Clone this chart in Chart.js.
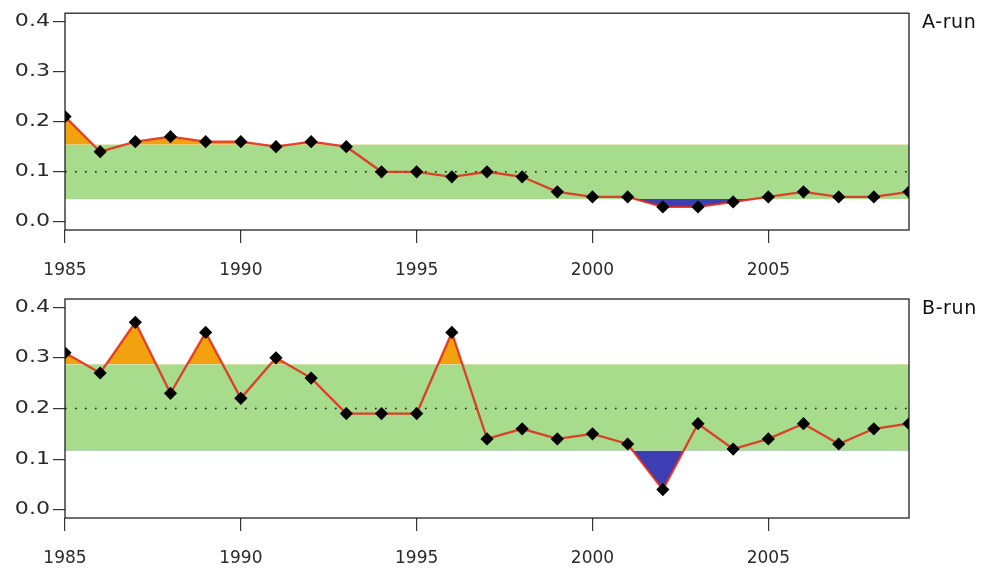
<!DOCTYPE html>
<html>
<head>
<meta charset="utf-8">
<script src="https://cdn.jsdelivr.net/npm/chart.js@4.4.1/dist/chart.umd.min.js"></script>
<style>
  html, body { margin: 0; padding: 0; background: #fff; }
  #wrap { position: relative; width: 981px; height: 573px; }
  .panel { position: absolute; left: 0; width: 981px; }
</style>
</head>
<body>
<div id="wrap">
  <div class="panel" style="top:0;height:285px"><canvas id="runA" width="981" height="285"></canvas></div>
  <div class="panel" style="top:285px;height:288px"><canvas id="runB" width="981" height="288"></canvas></div>
</div>
<script>
// Yearly values for the two runs
const years = [1985, 1986, 1987, 1988, 1989, 1990, 1991, 1992, 1993, 1994, 1995, 1996,
               1997, 1998, 1999, 2000, 2001, 2002, 2003, 2004, 2005, 2006, 2007, 2008, 2009];
const aRun = [0.21, 0.14, 0.16, 0.17, 0.16, 0.16, 0.15, 0.16, 0.15, 0.10, 0.10, 0.09,
              0.10, 0.09, 0.06, 0.05, 0.05, 0.03, 0.03, 0.04, 0.05, 0.06, 0.05, 0.05, 0.06];
const bRun = [0.31, 0.27, 0.37, 0.23, 0.35, 0.22, 0.30, 0.26, 0.19, 0.19, 0.19, 0.35,
              0.14, 0.16, 0.14, 0.15, 0.13, 0.04, 0.17, 0.12, 0.14, 0.17, 0.13, 0.16, 0.17];
const runNames = ['A-run', 'B-run'];
// Reference band and centre line per run
const bandLow  = [0.046, 0.117];
const bandHigh = [0.154, 0.287];
const runMean  = [0.10, 0.20];
// Axis ticks
const xTicks = [1985, 1990, 1995, 2000, 2005];
const yTicks = [0.0, 0.1, 0.2, 0.3, 0.4];
const xRange = [1985, 2009];
const yRange = [-0.016, 0.416];

const GREEN  = '#a7dc8d';
const ORANGE = '#f2a20e';
const BLUE   = '#3b3fb3';
const LINE   = 'rgba(228, 36, 22, 0.85)';
const CLEAR  = 'rgba(0,0,0,0)';
const FONT   = 'DejaVu Sans';

// Frame around the plotting region plus the run name at its top right
const framePlugin = {
  id: 'frame',
  afterDatasetsDraw(chart, args, opts) {
    const { ctx, chartArea: a } = chart;
    ctx.save();
    ctx.strokeStyle = '#222';
    ctx.lineWidth = 1.3;
    ctx.strokeRect(a.left, a.top, a.right - a.left, a.bottom - a.top);
    ctx.fillStyle = '#111';
    ctx.font = '19px "' + FONT + '"';
    ctx.letterSpacing = '0.6px';
    ctx.textBaseline = 'alphabetic';
    ctx.textAlign = 'left';
    ctx.fillText(opts.text, a.right + 13, a.top + 15);
    ctx.restore();
  }
};

// draw the vertical-axis value labels in a horizontally wider face
function wideLabels(scale, factor) {
  if (scale._wide) return;
  const orig = scale.drawLabels.bind(scale);
  scale.drawLabels = function (area) {
    const c = this.ctx;
    const anchor = this.right - this.options.grid.tickLength - this.options.ticks.padding;
    c.save();
    c.translate(anchor, 0);
    c.scale(factor, 1);
    c.translate(-anchor, 0);
    orig(area);
    c.restore();
  };
  scale._wide = true;
}

function makePanel(id, values, i, padTop) {
  const pts = years.map((yr, k) => ({ x: yr, y: values[k] }));
  const ends = [xRange[0], xRange[1]];
  return new Chart(document.getElementById(id), {
    type: 'line',
    data: {
      datasets: [
        { // excess above the band
          data: pts,
          borderColor: CLEAR, borderWidth: 0, pointRadius: 0,
          backgroundColor: ORANGE,
          fill: { target: { value: bandHigh[i] }, above: ORANGE, below: CLEAR },
          order: 5
        },
        { // shortfall below the band
          data: pts,
          borderColor: CLEAR, borderWidth: 0, pointRadius: 0,
          backgroundColor: BLUE,
          fill: { target: { value: bandLow[i] }, above: CLEAR, below: BLUE },
          order: 4
        },
        { // green reference band
          data: ends.map(x => ({ x, y: bandHigh[i] })),
          borderColor: CLEAR, borderWidth: 0, pointRadius: 0,
          backgroundColor: GREEN,
          fill: { target: { value: bandLow[i] } },
          order: 3
        },
        { // dotted centre line
          data: ends.map(x => ({ x, y: runMean[i] })),
          borderColor: '#111', borderWidth: 1.6, borderDash: [1.6, 8.4],
          pointRadius: 0, fill: false,
          order: 2
        },
        { // the run itself
          label: runNames[i],
          data: pts,
          borderColor: LINE, borderWidth: 2.3,
          pointStyle: 'rectRot', pointRadius: 6.6, pointHoverRadius: 6.6,
          pointBackgroundColor: '#000', pointBorderColor: '#000', pointBorderWidth: 0,
          fill: false, tension: 0,
          order: 1
        }
      ]
    },
    options: {
      responsive: false,
      animation: false,
      events: [],
      layout: { padding: { left: 0, right: 72, top: padTop, bottom: 0 } },
      plugins: {
        legend: { display: false },
        tooltip: { enabled: false },
        colors: { enabled: false },
        frame: { text: runNames[i] }
      },
      scales: {
        x: {
          type: 'linear',
          min: xRange[0], max: xRange[1],
          afterBuildTicks: s => { s.ticks = xTicks.map(v => ({ value: v })); },
          afterFit: s => { s.height = 55; },
          border: { display: false },
          grid: { drawOnChartArea: false, drawTicks: true, tickLength: 13, tickColor: '#333', lineWidth: 1.2 },
          ticks: {
            font: { family: FONT, size: 17 }, color: '#2a2a2a', padding: 17,
            maxRotation: 0, autoSkip: false,
            callback: v => String(v)
          }
        },
        y: {
          min: yRange[0], max: yRange[1],
          afterBuildTicks: s => { s.ticks = yTicks.map(v => ({ value: v })); },
          afterFit: s => { s.width = 65; wideLabels(s, 1.3); },
          border: { display: false },
          grid: { drawOnChartArea: false, drawTicks: true, tickLength: 12, tickColor: '#333', lineWidth: 1.2 },
          ticks: {
            font: { family: FONT, size: 17 }, color: '#2a2a2a', padding: 3,
            autoSkip: false,
            callback: v => Number(v).toFixed(1)
          }
        }
      }
    },
    plugins: [framePlugin]
  });
}

makePanel('runA', aRun, 0, 11);
makePanel('runB', bRun, 1, 14);
</script>
</body>
</html>
